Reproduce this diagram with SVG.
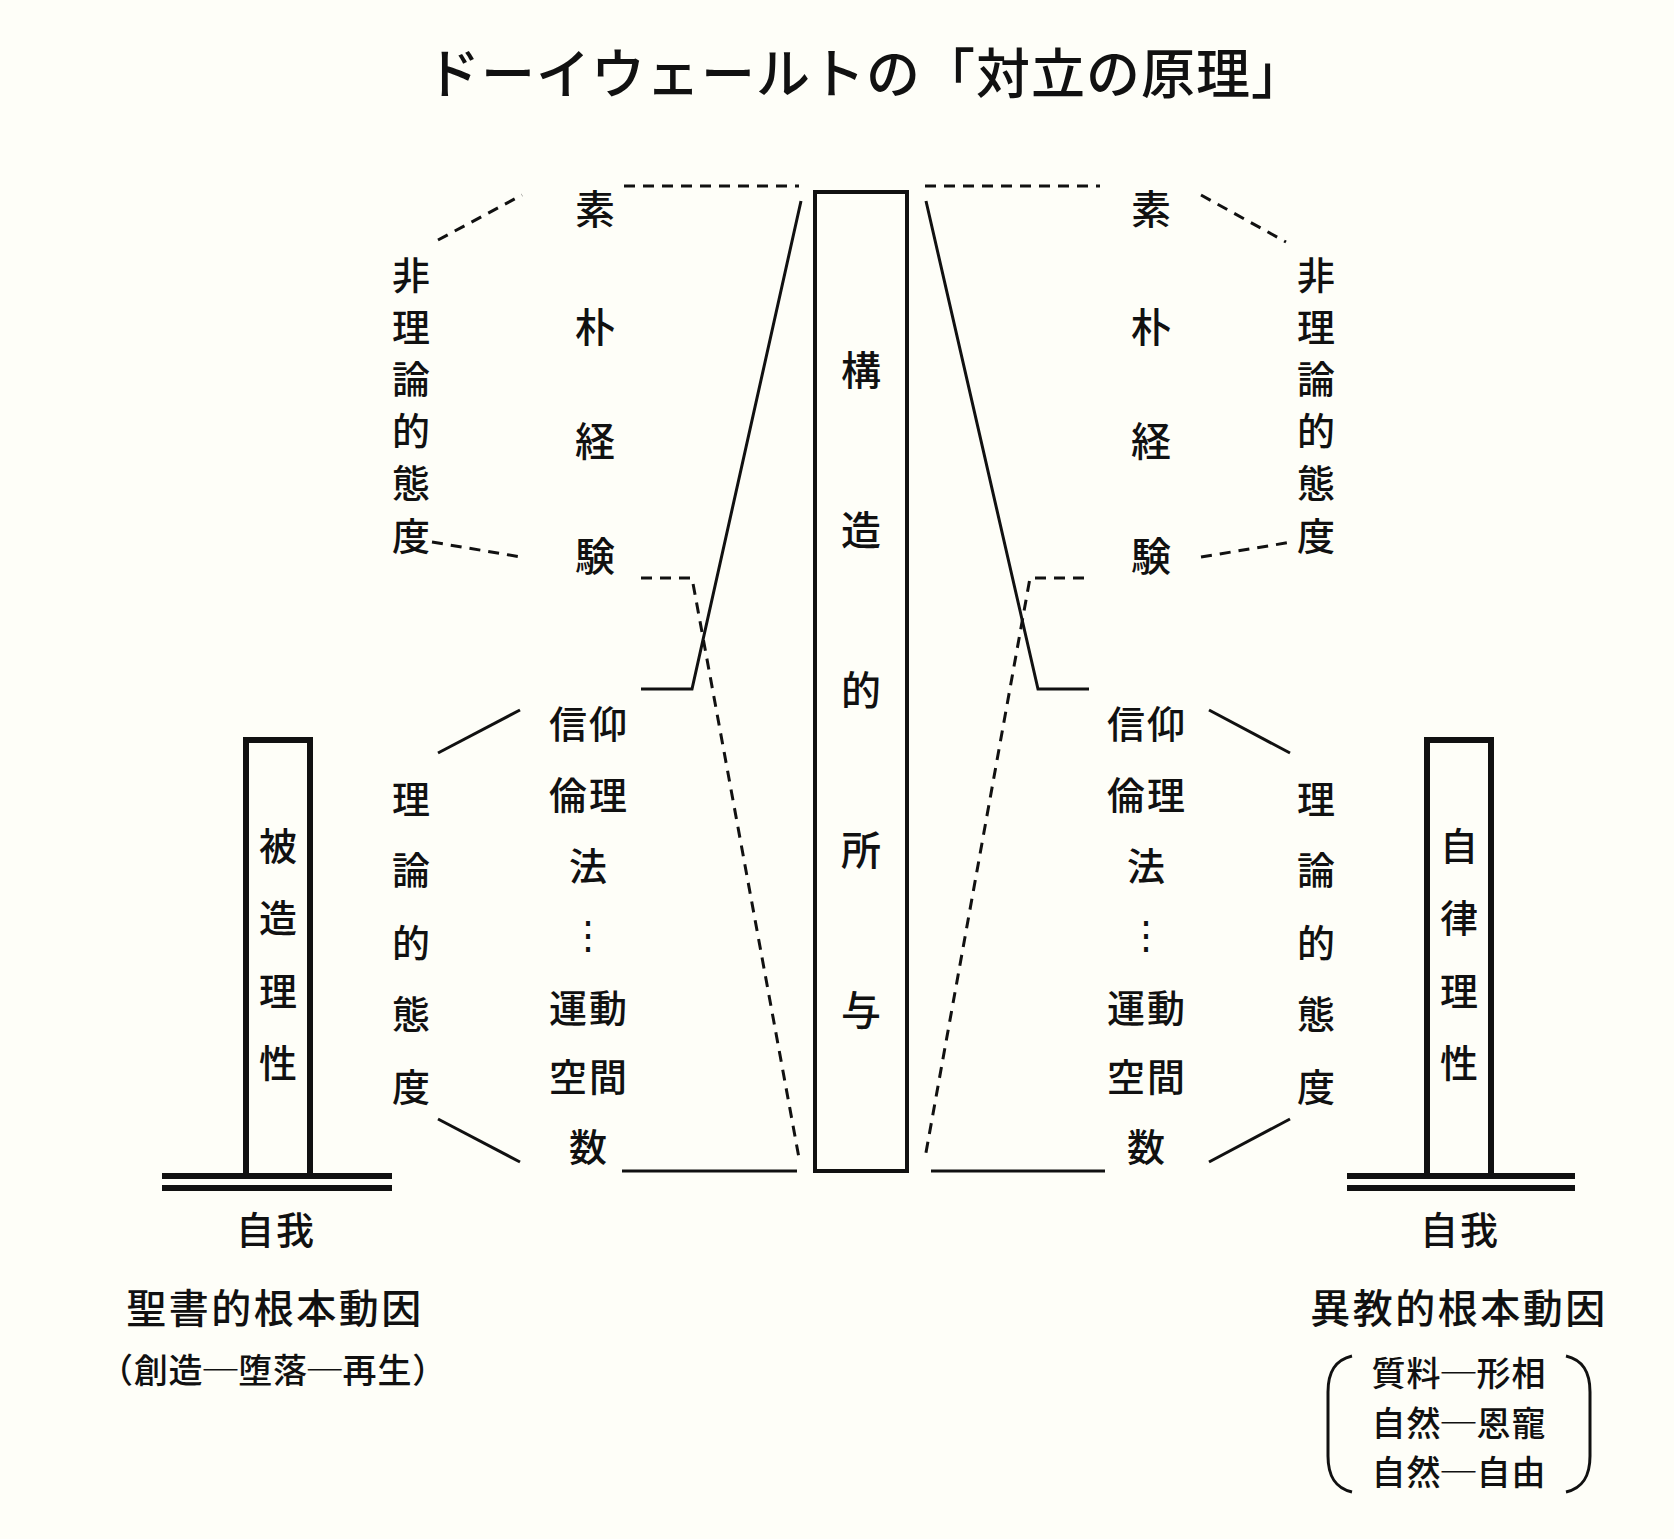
<svg xmlns="http://www.w3.org/2000/svg" width="1674" height="1539" viewBox="0 0 1674 1539">
<style>
text{font-family:"Noto Sans CJK JP","Noto Sans CJK SC",sans-serif;fill:#111;text-anchor:middle;font-weight:500}
.t40{font-size:40px}
.t38{font-size:38px}
.sub{font-size:34px}
.title{font-size:54px;letter-spacing:1px}
.head{font-size:40px;letter-spacing:2.5px}
.ln{stroke:#111;stroke-width:3;fill:none}
.dl{stroke:#111;stroke-width:3;fill:none;stroke-dasharray:11 8}
.box{stroke:#111;stroke-width:4;fill:none}
.pil{stroke:#111;stroke-width:6;fill:none}
.base{stroke:#111;stroke-width:6}
</style>
<rect width="1674" height="1539" fill="#fefef8"/>
<g id="title"><text class="title" x="866" y="94">ドーイウェールトの「対立の原理」</text></g>

<g id="connectors">
<line class="dl" x1="624" y1="186" x2="799" y2="186"/>
<line class="dl" x1="925" y1="186" x2="1100" y2="186"/>
<line class="dl" x1="438" y1="240" x2="522" y2="195"/>
<line class="dl" x1="432" y1="542" x2="521" y2="557"/>
<line class="dl" x1="1201" y1="195" x2="1286" y2="242"/>
<line class="dl" x1="1201" y1="557" x2="1292" y2="542"/>
<polyline class="dl" points="641,578 692,578 799,1158"/>
<polyline class="dl" points="1084,578 1030,578 925,1158"/>
<polyline class="ln" points="801,201 692,689 641,689"/>
<polyline class="ln" points="926,201 1038,689 1089,689"/>
<line class="ln" x1="438" y1="753" x2="520" y2="710"/>
<line class="ln" x1="438" y1="1119" x2="520" y2="1162"/>
<line class="ln" x1="1209" y1="710" x2="1290" y2="753"/>
<line class="ln" x1="1209" y1="1162" x2="1290" y2="1119"/>
<line class="ln" stroke-width="3.3" x1="622" y1="1171" x2="797" y2="1171"/>
<line class="ln" stroke-width="3.3" x1="931" y1="1171" x2="1105" y2="1171"/>
</g>

<g id="center-box">
<rect class="box" x="815" y="192" width="92" height="979"/>
<text class="t40" x="861" y="385">構</text>
<text class="t40" x="861" y="545">造</text>
<text class="t40" x="861" y="705">的</text>
<text class="t40" x="861" y="865">所</text>
<text class="t40" x="861" y="1025">与</text>
</g>

<g id="left-naive">
<text class="t40" x="595" y="224">素</text>
<text class="t40" x="595" y="342">朴</text>
<text class="t40" x="595" y="456">経</text>
<text class="t40" x="595" y="571">験</text>
</g>
<g id="right-naive">
<text class="t40" x="1151" y="224">素</text>
<text class="t40" x="1151" y="342">朴</text>
<text class="t40" x="1151" y="456">経</text>
<text class="t40" x="1151" y="571">験</text>
</g>

<g id="left-nontheoretical">
<text class="t38" x="411" y="289">非</text>
<text class="t38" x="411" y="341">理</text>
<text class="t38" x="411" y="393">論</text>
<text class="t38" x="411" y="445">的</text>
<text class="t38" x="411" y="497">態</text>
<text class="t38" x="411" y="550">度</text>
</g>
<g id="right-nontheoretical">
<text class="t38" x="1316" y="289">非</text>
<text class="t38" x="1316" y="341">理</text>
<text class="t38" x="1316" y="393">論</text>
<text class="t38" x="1316" y="445">的</text>
<text class="t38" x="1316" y="497">態</text>
<text class="t38" x="1316" y="550">度</text>
</g>

<g id="left-theoretical">
<text class="t38" x="411" y="813">理</text>
<text class="t38" x="411" y="884">論</text>
<text class="t38" x="411" y="957">的</text>
<text class="t38" x="411" y="1028">態</text>
<text class="t38" x="411" y="1101">度</text>
</g>
<g id="right-theoretical">
<text class="t38" x="1316" y="813">理</text>
<text class="t38" x="1316" y="884">論</text>
<text class="t38" x="1316" y="957">的</text>
<text class="t38" x="1316" y="1028">態</text>
<text class="t38" x="1316" y="1101">度</text>
</g>

<g id="left-aspects">
<text class="t38" x="589" y="738" letter-spacing="2">信仰</text>
<text class="t38" x="589" y="809" letter-spacing="2">倫理</text>
<text class="t38" x="588" y="880">法</text>
<text class="t38" x="588" y="949" font-family="DejaVu Sans">⋮</text>
<text class="t38" x="589" y="1022" letter-spacing="2">運動</text>
<text class="t38" x="589" y="1091" letter-spacing="2">空間</text>
<text class="t38" x="588" y="1161">数</text>
</g>
<g id="right-aspects">
<text class="t38" x="1147" y="738" letter-spacing="2">信仰</text>
<text class="t38" x="1147" y="809" letter-spacing="2">倫理</text>
<text class="t38" x="1146" y="880">法</text>
<text class="t38" x="1146" y="949" font-family="DejaVu Sans">⋮</text>
<text class="t38" x="1147" y="1022" letter-spacing="2">運動</text>
<text class="t38" x="1147" y="1091" letter-spacing="2">空間</text>
<text class="t38" x="1146" y="1161">数</text>
</g>

<g id="left-pillar">
<rect class="pil" x="246" y="740" width="64" height="436"/>
<line class="base" x1="162" y1="1176" x2="392" y2="1176"/>
<line class="base" x1="162" y1="1188" x2="392" y2="1188"/>
<text class="t38" x="278" y="860">被</text>
<text class="t38" x="278" y="932">造</text>
<text class="t38" x="278" y="1005">理</text>
<text class="t38" x="278" y="1077">性</text>
</g>
<g id="right-pillar">
<rect class="pil" x="1427" y="740" width="64" height="436"/>
<line class="base" x1="1347" y1="1176" x2="1575" y2="1176"/>
<line class="base" x1="1347" y1="1188" x2="1575" y2="1188"/>
<text class="t38" x="1459" y="860">自</text>
<text class="t38" x="1459" y="932">律</text>
<text class="t38" x="1459" y="1005">理</text>
<text class="t38" x="1459" y="1077">性</text>
</g>

<g id="left-ego"><text class="t38" x="276" y="1244" letter-spacing="2">自我</text></g>
<g id="right-ego"><text class="t38" x="1460" y="1244" letter-spacing="2">自我</text></g>

<g id="left-motive">
<text class="head" x="275" y="1323">聖書的根本動因</text>
<text class="sub" x="273" y="1383" letter-spacing="0.8">（創造─堕落─再生）</text>
</g>
<g id="right-motive">
<text class="head" x="1459" y="1323">異教的根本動因</text>
<path class="ln" stroke-width="3" d="M1352,1356 C1335,1360 1328,1372 1328,1392 V1456 C1328,1476 1335,1488 1352,1492"/>
<path class="ln" stroke-width="3" d="M1566,1356 C1583,1360 1590,1372 1590,1392 V1456 C1590,1476 1583,1488 1566,1492"/>
<text class="sub" x="1459" y="1386" letter-spacing="1">質料─形相</text>
<text class="sub" x="1459" y="1436" letter-spacing="1">自然─恩寵</text>
<text class="sub" x="1459" y="1485" letter-spacing="1">自然─自由</text>
</g>
</svg>
